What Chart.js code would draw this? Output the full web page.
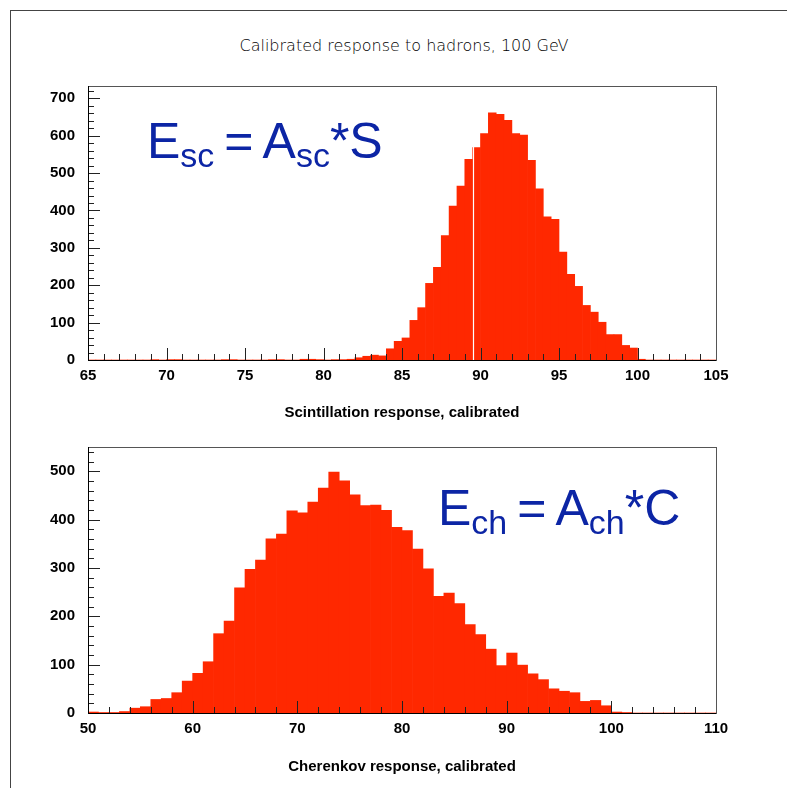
<!DOCTYPE html>
<html>
<head>
<meta charset="utf-8">
<script src="https://cdn.jsdelivr.net/npm/chart.js@4.4.1/dist/chart.umd.min.js"></script>
<style>
  html, body { margin: 0; padding: 0; background: #fff; }
  #page { position: relative; width: 787px; height: 788px; overflow: hidden; }
  #frame { position: absolute; left: 10px; top: 10px; width: 800px; height: 800px;
           border-left: 1px solid #444; border-top: 1px solid #444; }
  #title { position: absolute; left: 0; width: 808px; top: 36px; line-height: 18px;
           text-align: center; font: 300 16px "DejaVu Sans"; color: #000; }
  .box { position: absolute; left: 0; }
</style>
</head>
<body>
<div id="page">
  <div id="frame"></div>
  <div id="title">Calibrated response to hadrons, 100 GeV</div>
  <div class="box" style="top:0"><canvas id="scint" width="787" height="425"></canvas></div>
  <div class="box" style="top:425px"><canvas id="cher" width="787" height="363"></canvas></div>
</div>
<script>
// Scintillation histogram: 0.5-wide bins from 65 to 105
const SC_BIN_START = 65;
const SC_BIN_WIDTH = 0.5;
const SC_COUNTS = [
  0, 0, 0, 0, 0, 0, 0, 0, 1, 0,
  1, 1, 0, 0, 0, 0, 0, 1, 1, 0,
  0, 0, 0, 1, 1, 0, 0, 2, 2, 1,
  0, 1, 1, 2, 6, 10, 13, 11, 30, 50,
  59, 106, 140, 205, 248, 333, 412, 465, 537, 568,
  606, 661, 657, 641, 606, 602, 534, 458, 383, 376,
  289, 229, 197, 146, 128, 101, 68, 68, 39, 32,
  2, 0, 0, 0, 0, 0, 0, 0, 0, 0
];
const SC_X_RANGE = [65, 105];
const SC_Y_MAX = 733;
const SC_GAP_AT = 89.5; // thin white seam visible in the original plot

// Cherenkov histogram: 1-wide bins from 50 to 110
const CH_BIN_START = 50;
const CH_BIN_WIDTH = 1;
const CH_COUNTS = [
  2, 1, 1, 3, 10, 13, 28, 30, 42, 66,
  82, 106, 164, 190, 259, 297, 316, 360, 370, 418,
  414, 436, 465, 498, 480, 451, 429, 430, 419, 384,
  377, 339, 298, 241, 248, 226, 183, 162, 132, 98,
  124, 99, 81, 69, 50, 45, 42, 24, 26, 15,
  2, 1, 0, 0, 0, 0, 0, 0, 0, 0
];
const CH_X_RANGE = [50, 110];
const CH_Y_MAX = 550;

const RED = '#ff2800';
const BLUE = '#0c25a5';

const frameTicks = {
  id: 'frameTicks',
  afterDatasetsDraw(chart, args, o) {
    const { ctx, chartArea: a, scales: { x, y } } = chart;
    ctx.save();
    if (o.gapAt != null) {
      const gx = Math.round(x.getPixelForValue(o.gapAt)) + 0.5;
      ctx.strokeStyle = '#fff';
      ctx.lineWidth = 1.2;
      ctx.beginPath(); ctx.moveTo(gx, a.top); ctx.lineTo(gx, a.bottom); ctx.stroke();
    }
    ctx.lineWidth = 1;
    ctx.strokeStyle = '#222';
    const nx = Math.round((x.max - x.min) / o.xMinor);
    for (let i = 0; i <= nx; i++) {
      const v = x.min + i * o.xMinor;
      const r = v / o.xMajor;
      const len = Math.abs(r - Math.round(r)) < 1e-6 ? 12 : 6;
      const px = Math.round(x.getPixelForValue(v)) + 0.5;
      ctx.beginPath(); ctx.moveTo(px, a.bottom); ctx.lineTo(px, a.bottom - len); ctx.stroke();
    }
    const ny = Math.floor((y.max - y.min) / o.yMinor);
    for (let i = 0; i <= ny; i++) {
      const v = y.min + i * o.yMinor;
      const r = v / o.yMajor;
      const len = Math.abs(r - Math.round(r)) < 1e-6 ? 12 : 6;
      const py = Math.round(y.getPixelForValue(v)) + 0.5;
      ctx.beginPath(); ctx.moveTo(a.left, py); ctx.lineTo(a.left + len, py); ctx.stroke();
    }
    // frame
    ctx.strokeStyle = '#555';
    ctx.strokeRect(Math.round(a.left) + 0.5, Math.round(a.top) + 0.5,
                   Math.round(a.right - a.left), Math.round(a.bottom - a.top));
    ctx.strokeStyle = '#000';
    ctx.beginPath();
    ctx.moveTo(a.left, Math.round(a.bottom) + 0.5); ctx.lineTo(a.right, Math.round(a.bottom) + 0.5);
    ctx.moveTo(Math.round(a.left) + 0.5, a.top); ctx.lineTo(Math.round(a.left) + 0.5, a.bottom);
    ctx.stroke();
    ctx.restore();
  }
};

// "E_sub = A_sub*X" label drawn inside the frame
const formula = {
  id: 'formula',
  afterDraw(chart, args, o) {
    const { ctx, chartArea: a } = chart;
    const main = '50px "Liberation Sans", Arial, sans-serif';
    const sub = '34px "Liberation Sans", Arial, sans-serif';
    const parts = [
      ['E', main, 0, 0], [o.sub, sub, 9, 0], ['=', main, 0, 10],
      ['A', main, 0, 9], [o.sub, sub, 9, 0], ['*' + o.tail, main, 0, 0]
    ];
    let x = a.left + o.dx;
    const base = a.top + o.dy;
    ctx.save();
    ctx.fillStyle = BLUE;
    ctx.textBaseline = 'alphabetic';
    ctx.textAlign = 'left';
    for (const [txt, font, drop, gapBefore] of parts) {
      ctx.font = font;
      x += gapBefore;
      ctx.fillText(txt, x, base + drop);
      x += ctx.measureText(txt).width;
    }
    ctx.restore();
  }
};

const tickFont = { family: '"Liberation Sans", Arial, sans-serif', size: 15, weight: 'bold' };
const titleFont = { family: '"Liberation Sans", Arial, sans-serif', size: 15, weight: 'bold' };

function histogram(id, h) {
  const points = h.counts.map((c, i) => ({ x: h.start + (i + 0.5) * h.width, y: c }));
  return new Chart(document.getElementById(id), {
    type: 'bar',
    data: {
      datasets: [{
        data: points,
        backgroundColor: RED,
        borderWidth: 0,
        barPercentage: 1,
        categoryPercentage: 1
      }]
    },
    options: {
      responsive: false,
      animation: false,
      layout: { padding: { left: 0, right: 71, top: h.top, bottom: 0 } },
      plugins: {
        legend: { display: false },
        tooltip: { enabled: false },
        frameTicks: h.ticks,
        formula: h.formula
      },
      scales: {
        x: {
          type: 'linear',
          min: h.xRange[0],
          max: h.xRange[1],
          offset: false,
          grid: { display: false, drawTicks: false, offset: false },
          border: { display: false },
          ticks: { stepSize: h.xStep, padding: 7, color: '#000', font: tickFont,
                    maxRotation: 0, autoSkip: false, includeBounds: false },
          title: { display: true, text: h.xTitle, color: '#000', font: titleFont,
                   padding: { top: 0, bottom: h.titlePad } },
          afterFit: s => { s.height = h.xAxisHeight; }
        },
        y: {
          min: 0,
          max: h.yMax,
          grid: { display: false, drawTicks: false },
          border: { display: false },
          ticks: { stepSize: 100, padding: 13, color: '#000', font: tickFont, includeBounds: false },
          afterFit: s => { s.width = 88; }
        }
      }
    },
    plugins: [frameTicks, formula]
  });
}

histogram('scint', {
  start: SC_BIN_START, width: SC_BIN_WIDTH, counts: SC_COUNTS,
  xRange: SC_X_RANGE, xStep: 5, yMax: SC_Y_MAX,
  top: 86, xAxisHeight: 65, titlePad: 3,
  xTitle: 'Scintillation response, calibrated',
  ticks: { xMinor: 1, xMajor: 5, yMinor: 20, yMajor: 100, gapAt: SC_GAP_AT },
  formula: { sub: 'sc', tail: 'S', dx: 59, dy: 72 }
});

histogram('cher', {
  start: CH_BIN_START, width: CH_BIN_WIDTH, counts: CH_COUNTS,
  xRange: CH_X_RANGE, xStep: 10, yMax: CH_Y_MAX,
  top: 14, xAxisHeight: 75, titlePad: 12,
  xTitle: 'Cherenkov response, calibrated',
  ticks: { xMinor: 2, xMajor: 10, yMinor: 20, yMajor: 100, gapAt: null },
  formula: { sub: 'ch', tail: 'C', dx: 350, dy: 78 }
});
</script>
</body>
</html>
